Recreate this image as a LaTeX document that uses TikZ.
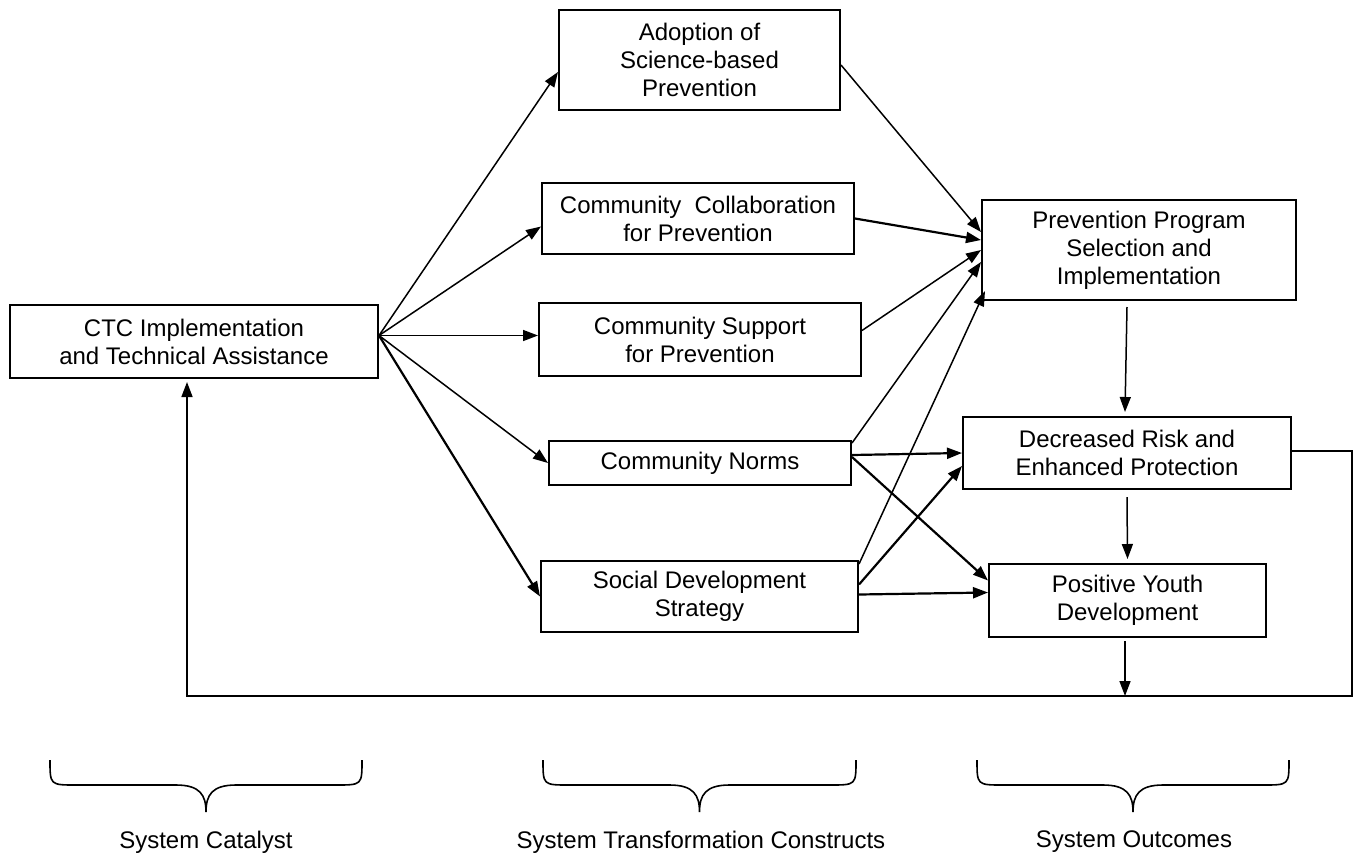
\documentclass[tikz,border=0pt]{standalone}
\usepackage{fontspec}
\setmainfont{Liberation Sans}
\usetikzlibrary{arrows.meta}
\tikzset{
	box/.style={
		draw,
		line width = 1pt,
		inner sep = 0pt,
		align = center
	},
	arr/.style={
		->,
		line width = 0.75pt
	},
	thickarr/.style={
		->,
		line width = 1.1pt
	},
	brace/.style={
		line width = 0.8pt
	},
}
\tikzset{>={Triangle[length=7.5pt,width=5.5pt]}}

\begin{document}
\begin{tikzpicture}[x=0.5pt, y=-0.5pt, font=\fontsize{12}{14}\selectfont]
	\useasboundingbox (0,0) rectangle (1360,858);
	% boxes
	\node[box, minimum width=184pt, minimum height=36.5pt] (ctc) at (194,341.5) {CTC Implementation\\and Technical Assistance};
	\node[box, minimum width=140.5pt, minimum height=50pt] (adopt) at (699.5,60) {Adoption of\\Science-based\\Prevention};
	\node[box, minimum width=156pt, minimum height=35.5pt] (collab) at (698,218.5) {Community\ \ Collaboration\\for Prevention};
	\node[box, minimum width=161pt, minimum height=36.5pt] (support) at (700,339.5) {Community Support\\for Prevention};
	\node[box, minimum width=151pt, minimum height=22pt] (norms) at (700,463) {Community Norms};
	\node[box, minimum width=158.5pt, minimum height=35.5pt] (sds) at (699.5,596.5) {Social Development\\Strategy};
	\node[box, minimum width=157pt, minimum height=50pt] (ppsi) at (1139,250) {Prevention Program\\Selection and\\Implementation};
	\node[box, minimum width=164pt, minimum height=36pt] (risk) at (1127,453) {Decreased Risk and\\Enhanced Protection};
	\node[box, minimum width=138.5pt, minimum height=36.5pt] (pyd) at (1127.5,600.5) {Positive Youth\\Development};
	% catalyst fan
	\coordinate (hub) at ([yshift=3pt]ctc.east);
	\draw[arr] (hub) -- ([yshift=-6pt]adopt.west);
	\draw[arr] (hub) -- ([yshift=-4pt]collab.west);
	\draw[arr] (hub) -- ([yshift=2pt]support.west);
	\draw[arr] (hub) -- (norms.west);
	\draw[thickarr] (hub) -- (sds.west);
	% constructs to outcomes
	\draw[arr] ([yshift=-2.5pt]adopt.east) -- ([yshift=9pt]ppsi.west);
	\draw[thickarr] (collab.east) -- ([yshift=5pt]ppsi.west);
	\draw[arr] ([yshift=4.5pt]support.east) -- (ppsi.west);
	\draw[arr] ([yshift=10pt]norms.east) -- ([yshift=-6pt]ppsi.west);
	\draw[thickarr] ([yshift=4pt]norms.east) -- (risk.west);
	\draw[thickarr] ([yshift=3pt]norms.east) -- ([yshift=10pt]pyd.west);
	\draw[arr] ([yshift=-2pt]sds.north east) -- ([shift={(2pt,5pt)}]ppsi.south west);
	\draw[thickarr] ([yshift=6pt]sds.east) -- ([yshift=-6.5pt]risk.west);
	\draw[thickarr] ([yshift=1pt]sds.east) -- ([yshift=4pt]pyd.west);
	% outcome chain
	\draw[arr] ([shift={(-6pt,-3pt)}]ppsi.south) -- ([shift={(-1pt,2pt)}]risk.north);
	\draw[arr] ([yshift=-3.5pt]risk.south) -- ([yshift=2pt]pyd.north);
	% feedback loop
	\coordinate (fbr) at (1352,696);
	\coordinate (fbl) at (187,696);
	\coordinate (tap) at (1125,696);
	\draw[arr] ([xshift=-1.25pt,yshift=-1.5pt]pyd.south) -- (tap);
	\draw[arr] ([yshift=1pt]risk.east) -| (fbr) -- (fbl) -- ([shift={(-3.5pt,-1.5pt)}]ctc.south);
	% braces
	\foreach \xl/\xr in {50/362, 543/856, 977/1289}{
		\pgfmathsetmacro\xc{(\xl+\xr)/2}
		\draw[brace] (\xl,760) .. controls (\xl,785) .. (\xl+26,785) -- (\xc-30,785)
			.. controls (\xc-6,785) and (\xc,795) .. (\xc,812)
			.. controls (\xc,795) and (\xc+6,785) .. (\xc+30,785) -- (\xr-26,785)
			.. controls (\xr,785) .. (\xr,760);
	}
	\node (cat) at (206,842) {System Catalyst};
	\node (trans) at (701,842) {System Transformation Constructs};
	\node (outc) at (1134,842) {System Outcomes};
\end{tikzpicture}
\end{document}
